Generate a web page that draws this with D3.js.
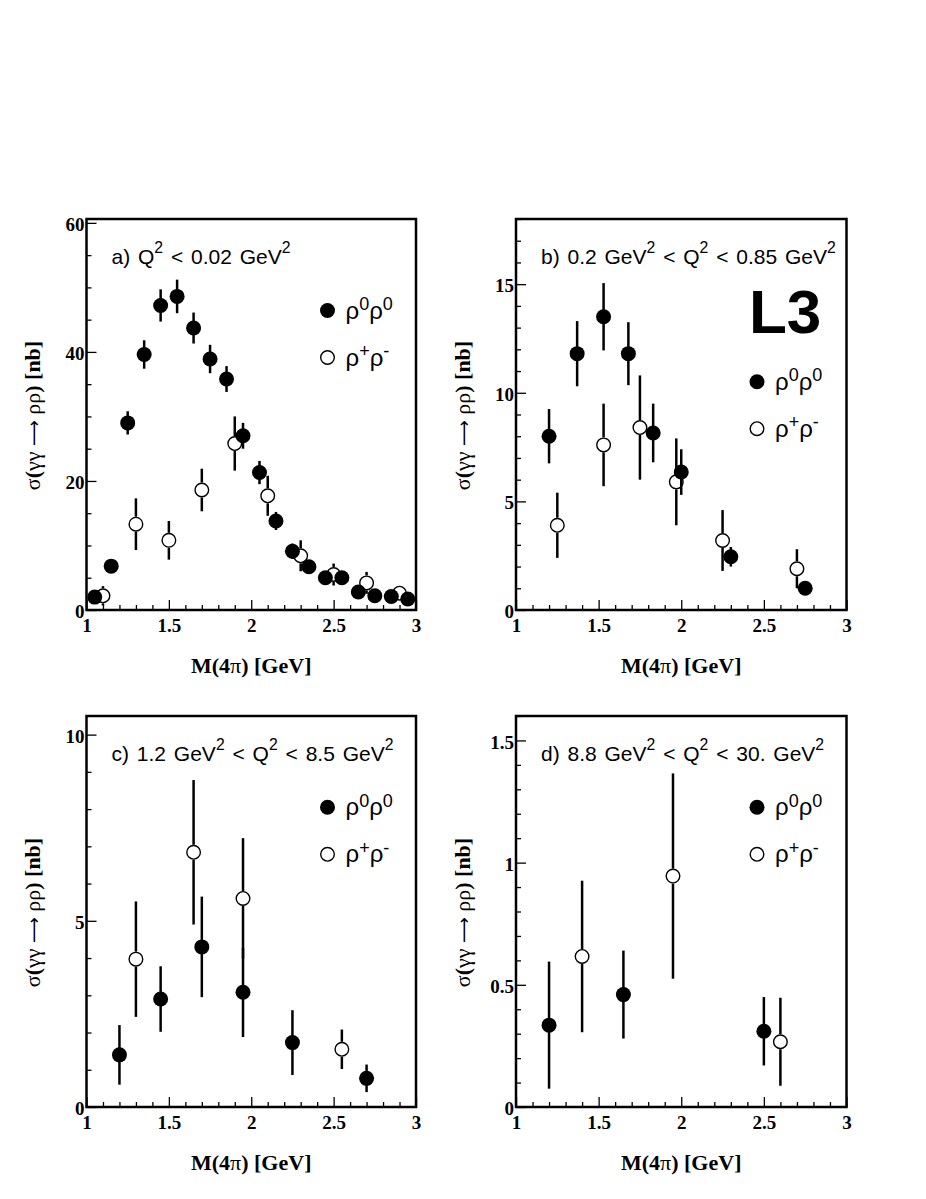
<!DOCTYPE html>
<html>
<head>
<meta charset="utf-8">
<script src="https://cdn.jsdelivr.net/npm/d3@7"></script>
<style>
  body { margin: 0; background: #fff; }
  svg { display: block; }
</style>
</head>
<body>
<script>
// x ticks shared by all four panels
const xMajor = [1, 1.5, 2, 2.5, 3];

// y tick labels per panel
const aYTicks = [0, 20, 40, 60];
const bYTicks = [0, 5, 10, 15];
const cYTicks = [0, 5, 10];
const dYTicks = [0, 0.5, 1, 1.5];

// a) Q2 < 0.02 GeV2   (m = M(4pi) GeV, s = sigma nb, e = error)
const aRho00 = [
  {m: 1.05, s: 2.0, e: 0.8}, {m: 1.15, s: 6.8, e: 1.0}, {m: 1.25, s: 29.0, e: 1.8},
  {m: 1.35, s: 39.6, e: 2.2}, {m: 1.45, s: 47.2, e: 2.5}, {m: 1.55, s: 48.6, e: 2.6},
  {m: 1.65, s: 43.7, e: 2.4}, {m: 1.75, s: 38.9, e: 2.2}, {m: 1.85, s: 35.8, e: 2.0},
  {m: 1.95, s: 27.0, e: 2.0}, {m: 2.05, s: 21.3, e: 1.8}, {m: 2.15, s: 13.8, e: 1.4},
  {m: 2.25, s: 9.1, e: 1.2}, {m: 2.35, s: 6.7, e: 1.0}, {m: 2.45, s: 5.0, e: 0.9},
  {m: 2.55, s: 5.0, e: 0.9}, {m: 2.65, s: 2.8, e: 0.7}, {m: 2.75, s: 2.2, e: 0.6},
  {m: 2.85, s: 2.1, e: 0.6}, {m: 2.95, s: 1.7, e: 0.5}
];
const aRhoPM = [
  {m: 1.1, s: 2.2, e: 1.5}, {m: 1.3, s: 13.3, e: 4.0}, {m: 1.5, s: 10.8, e: 3.0},
  {m: 1.7, s: 18.6, e: 3.3}, {m: 1.9, s: 25.8, e: 4.2}, {m: 2.1, s: 17.7, e: 3.1},
  {m: 2.3, s: 8.4, e: 2.4}, {m: 2.5, s: 5.5, e: 1.7}, {m: 2.7, s: 4.2, e: 1.7},
  {m: 2.9, s: 2.6, e: 0.8}
];

// b) 0.2 GeV2 < Q2 < 0.85 GeV2
const bRho00 = [
  {m: 1.2, s: 8.0, e: 1.25}, {m: 1.37, s: 11.8, e: 1.5}, {m: 1.53, s: 13.5, e: 1.55},
  {m: 1.68, s: 11.8, e: 1.45}, {m: 1.83, s: 8.15, e: 1.35}, {m: 2.0, s: 6.35, e: 1.05},
  {m: 2.3, s: 2.45, e: 0.45}, {m: 2.75, s: 1.0, e: 0.3}
];
const bRhoPM = [
  {m: 1.25, s: 3.9, e: 1.5}, {m: 1.53, s: 7.6, e: 1.9}, {m: 1.75, s: 8.4, e: 2.4},
  {m: 1.97, s: 5.9, e: 2.0}, {m: 2.25, s: 3.2, e: 1.4}, {m: 2.7, s: 1.9, e: 0.9}
];

// c) 1.2 GeV2 < Q2 < 8.5 GeV2
const cRho00 = [
  {m: 1.2, s: 1.4, e: 0.8}, {m: 1.45, s: 2.9, e: 0.88}, {m: 1.7, s: 4.3, e: 1.35},
  {m: 1.95, s: 3.08, e: 1.2}, {m: 2.25, s: 1.73, e: 0.87}, {m: 2.7, s: 0.77, e: 0.37}
];
const cRhoPM = [
  {m: 1.3, s: 3.97, e: 1.55}, {m: 1.65, s: 6.84, e: 1.94}, {m: 1.95, s: 5.6, e: 1.62},
  {m: 2.55, s: 1.55, e: 0.53}
];

// d) 8.8 GeV2 < Q2 < 30. GeV2
const dRho00 = [
  {m: 1.2, s: 0.335, e: 0.26}, {m: 1.65, s: 0.46, e: 0.18}, {m: 2.5, s: 0.31, e: 0.14}
];
const dRhoPM = [
  {m: 1.4, s: 0.616, e: 0.31}, {m: 1.95, s: 0.945, e: 0.42}, {m: 2.6, s: 0.267, e: 0.18}
];

const titles = [
  "a) Q^{2} < 0.02 GeV^{2}",
  "b) 0.2 GeV^{2} < Q^{2} < 0.85 GeV^{2}",
  "c) 1.2 GeV^{2} < Q^{2} < 8.5 GeV^{2}",
  "d) 8.8 GeV^{2} < Q^{2} < 30. GeV^{2}"
];
const legendLabels = ["\u03c1^{0}\u03c1^{0}", "\u03c1^{+}\u03c1^{-}"];

const width = 926, height = 1199;
const sans = "'Liberation Sans', Arial, Helvetica, sans-serif";
const serif = "'Liberation Serif', 'Times New Roman', serif";

const panels = [
  {x0: 86.5, x1: 416, y0: 219, y1: 610, yMax: 60.6, yTicks: aYTicks, minor: 5,
   full: aRho00, open: aRhoPM, title: titles[0], leg: 91.5},
  {x0: 516, x1: 846.5, y0: 219, y1: 610, yMax: 18, yTicks: bYTicks, minor: 1,
   full: bRho00, open: bRhoPM, title: titles[1], leg: 162.7, l3: true},
  {x0: 86.5, x1: 416, y0: 716, y1: 1107, yMax: 10.5, yTicks: cYTicks, minor: 1,
   full: cRho00, open: cRhoPM, title: titles[2], leg: 91.3},
  {x0: 516, x1: 846.5, y0: 716, y1: 1107, yMax: 1.6, yTicks: dYTicks, minor: 0.1,
   full: dRho00, open: dRhoPM, title: titles[3], leg: 91.3}
];

const svg = d3.select("body").append("svg")
    .attr("width", width)
    .attr("height", height);

// text with ^{...} superscripts
function richText(sel, str, size, shift) {
  const parts = str.split(/(\^\{[^}]*\})/).filter(p => p.length);
  let up = false;
  parts.forEach(p => {
    if (p.startsWith("^{")) {
      sel.append("tspan")
          .attr("dy", -shift * size)
          .attr("font-size", size * 0.75)
          .text(p.slice(2, -1));
      up = true;
    } else {
      sel.append("tspan")
          .attr("dy", up ? shift * size : 0)
          .text(p);
      up = false;
    }
  });
}

panels.forEach(function (p) {
  const x = d3.scaleLinear().domain([1, 3]).range([p.x0, p.x1]);
  const y = d3.scaleLinear().domain([0, p.yMax]).range([p.y1, p.y0]);
  const g = svg.append("g");

  // minor ticks
  const xMinor = d3.range(1, 3.0001, 0.1).filter(v => Math.abs(v * 2 - Math.round(v * 2)) > 1e-6);
  const yMinor = d3.range(0, p.yMax + 1e-6, p.minor)
      .filter(v => !p.yTicks.some(t => Math.abs(t - v) < 1e-6));

  g.append("g")
      .attr("transform", `translate(0,${p.y1})`)
      .call(d3.axisBottom(x).tickValues(xMinor).tickSizeInner(-5).tickSizeOuter(0).tickFormat(""))
      .call(a => a.select(".domain").remove());
  g.append("g")
      .attr("transform", `translate(${p.x0},0)`)
      .call(d3.axisLeft(y).tickValues(yMinor).tickSizeInner(-5).tickSizeOuter(0).tickFormat(""))
      .call(a => a.select(".domain").remove());

  // major ticks with labels
  g.append("g")
      .attr("transform", `translate(0,${p.y1})`)
      .call(d3.axisBottom(x).tickValues(xMajor).tickSizeInner(-10).tickSizeOuter(0)
          .tickPadding(9).tickFormat(d3.format("")))
      .call(a => a.select(".domain").remove())
      .call(a => a.selectAll("text").attr("font-family", serif)
          .attr("font-weight", "bold").attr("font-size", 19).attr("fill", "#000"));
  g.append("g")
      .attr("transform", `translate(${p.x0},0)`)
      .call(d3.axisLeft(y).tickValues(p.yTicks).tickSizeInner(-10).tickSizeOuter(0)
          .tickPadding(2).tickFormat(d3.format("")))
      .call(a => a.select(".domain").remove())
      .call(a => a.selectAll("text").attr("font-family", serif)
          .attr("font-weight", "bold").attr("font-size", 19).attr("fill", "#000")
          .attr("dy", "0.4em"));

  g.selectAll(".tick line").attr("stroke", "#000").attr("stroke-width", 1.3);

  // frame
  g.append("rect")
      .attr("x", p.x0).attr("y", p.y0)
      .attr("width", p.x1 - p.x0).attr("height", p.y1 - p.y0)
      .attr("fill", "none").attr("stroke", "#000").attr("stroke-width", 2.5);

  const r = 7.5;

  // filled points
  g.selectAll(".efull").data(p.full).enter().append("line")
      .attr("x1", d => x(d.m)).attr("x2", d => x(d.m))
      .attr("y1", d => y(d.s - d.e)).attr("y2", d => y(d.s + d.e))
      .attr("stroke", "#000").attr("stroke-width", 2.5);
  g.selectAll(".pfull").data(p.full).enter().append("circle")
      .attr("cx", d => x(d.m)).attr("cy", d => y(d.s)).attr("r", r)
      .attr("fill", "#000");

  // open points, bars stop at the marker edge
  const openBars = [];
  p.open.forEach(d => {
    const cy = y(d.s);
    if (y(d.s + d.e) < cy - r) openBars.push({m: d.m, a: y(d.s + d.e), b: cy - r});
    if (y(d.s - d.e) > cy + r) openBars.push({m: d.m, a: cy + r, b: y(d.s - d.e)});
  });
  g.selectAll(".eopen").data(openBars).enter().append("line")
      .attr("x1", d => x(d.m)).attr("x2", d => x(d.m))
      .attr("y1", d => d.a).attr("y2", d => d.b)
      .attr("stroke", "#000").attr("stroke-width", 2.5);
  g.selectAll(".popen").data(p.open).enter().append("circle")
      .attr("cx", d => x(d.m)).attr("cy", d => y(d.s)).attr("r", r - 0.7)
      .attr("fill", "none").attr("stroke", "#000").attr("stroke-width", 1.4);

  // title
  const t = g.append("text")
      .attr("x", p.x0 + 25).attr("y", p.y0 + 44.5)
      .attr("font-family", sans).attr("font-size", 21)
      .attr("word-spacing", 2);
  richText(t, p.title, 21, 0.5);

  // legend
  const lx = p.x0 + 241;
  [0, 1].forEach(i => {
    const ly = p.y0 + p.leg + i * 47;
    g.append("circle")
        .attr("cx", lx).attr("cy", ly).attr("r", i ? r - 0.7 : r)
        .attr("fill", i ? "none" : "#000")
        .attr("stroke", i ? "#000" : "none").attr("stroke-width", 1.4);
    const lt = g.append("text")
        .attr("x", lx + 18).attr("y", ly + 8)
        .attr("font-family", sans).attr("font-size", 24);
    richText(lt, legendLabels[i], 24, 0.36);
  });

  if (p.l3) {
    g.append("text")
        .attr("x", 749).attr("y", 333)
        .attr("font-family", sans).attr("font-weight", "bold").attr("font-size", 62)
        .text("L3");
  }

  // axis titles
  const xl = g.append("text")
      .attr("x", (p.x0 + p.x1) / 2).attr("y", p.y1 + 62.7)
      .attr("text-anchor", "middle")
      .attr("font-family", serif).attr("font-weight", "bold").attr("font-size", 22);
  xl.append("tspan").text("M(4");
  xl.append("tspan").attr("font-weight", "normal").text("\u03c0");
  xl.append("tspan").text(") [GeV]");

  const yl = g.append("text")
      .attr("transform", `translate(${p.x0 - 46.5},${(p.y0 + p.y1) / 2 + 1}) rotate(-90)`)
      .attr("text-anchor", "middle")
      .attr("font-family", serif).attr("font-weight", "bold").attr("font-size", 22);
  yl.append("tspan").attr("font-weight", "normal").text("\u03c3");
  yl.append("tspan").text("(");
  yl.append("tspan").attr("font-weight", "normal").text("\u03b3\u03b3 ");
  yl.append("tspan").attr("font-weight", "normal").attr("font-family", "'DejaVu Sans', sans-serif")
      .attr("font-size", 18).text("\u27f6");
  yl.append("tspan").attr("font-weight", "normal").text(" \u03c1\u03c1");
  yl.append("tspan").text(") [nb]");
});
</script>
</body>
</html>
